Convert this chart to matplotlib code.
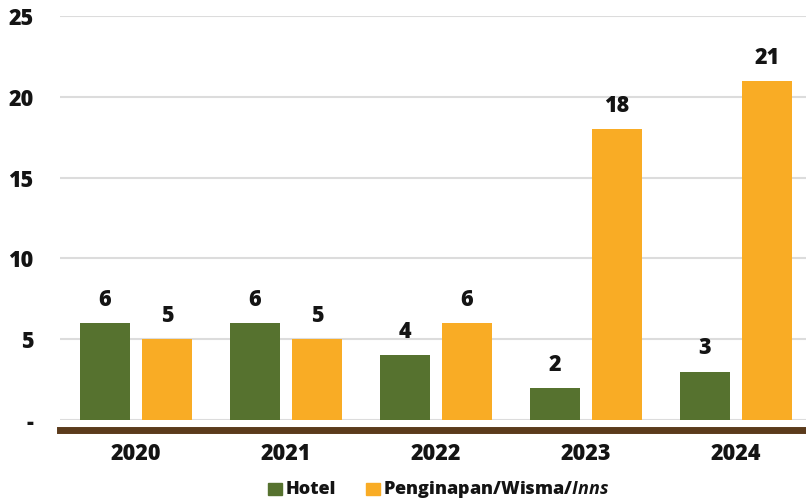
from matplotlib import pyplot as plt
from matplotlib.patches import Rectangle
import numpy as np

plt.rcParams['font.family'] = ['Open Sans', 'DejaVu Sans']
plt.rcParams['mathtext.fontset'] = 'custom'
plt.rcParams['mathtext.it'] = 'Open Sans:style=italic:weight=bold'

years = ['2020', '2021', '2022', '2023', '2024']
hotel = [6, 6, 4, 2, 3]
inns = [5, 5, 6, 18, 21]
yticks = [0, 5, 10, 15, 20, 25]
ylabels = ['-', '5', '10', '15', '20', '25']

green = '#56722f'
orange = '#f9ac25'
brown = '#5b3b1c'
txt = '#141414'

fig = plt.figure(figsize=(8.06, 5.03), dpi=100)
ax = fig.add_axes([60 / 806, 1 - 420 / 503, 746 / 806, 404 / 503])

x = np.arange(len(years))
w = 0.333
off = 0.207
b1 = ax.bar(x - off, hotel, w, color=green, zorder=3)
b2 = ax.bar(x + off, inns, w, color=orange, zorder=3)

for bars, vals in [(b1, hotel), (b2, inns)]:
    for r, v in zip(bars, vals):
        ax.annotate(str(v), (r.get_x() + r.get_width() / 2, v), xytext=(0, 8),
                    textcoords='offset points', ha='center', va='bottom',
                    fontsize=15.5, fontweight='heavy', color=txt)

ax.set_xlim(-0.507, 4.467)
ax.set_ylim(0, 25)
ax.set_yticks(yticks)
ax.set_yticklabels(ylabels, fontsize=15.5, fontweight='heavy', color=txt)
ax.set_xticks(x)
ax.set_xticklabels(years, fontsize=15.5, fontweight='heavy', color=txt)
ax.tick_params(axis='y', length=0, pad=19)
ax.tick_params(axis='x', length=0, pad=16)
ax.grid(axis='y', color='#dcdcdc', linewidth=1.5, zorder=0)
for s in ax.spines.values():
    s.set_visible(False)

# brown base line under the zero line
ax.axhline(-0.62, color=brown, linewidth=5, clip_on=False, zorder=2)

# legend
lx, ly = 268 / 806, 1 - 489 / 503
sq = 14 / 806
fig.patches.append(Rectangle((lx, ly - 6 / 503), sq, 12 / 503, color=green,
                             transform=fig.transFigure, figure=fig))
fig.text(lx + 18 / 806, ly, 'Hotel', fontsize=13, fontweight='heavy',
         va='center', color=txt)
lx2 = 366 / 806
fig.patches.append(Rectangle((lx2, ly - 6 / 503), sq, 12 / 503, color=orange,
                             transform=fig.transFigure, figure=fig))
fig.text(lx2 + 17 / 806, ly, r'Penginapan/Wisma/$\mathit{Inns}$', fontsize=13,
         fontweight='heavy', va='center', color=txt)

fig.savefig('out.png', dpi=100)
